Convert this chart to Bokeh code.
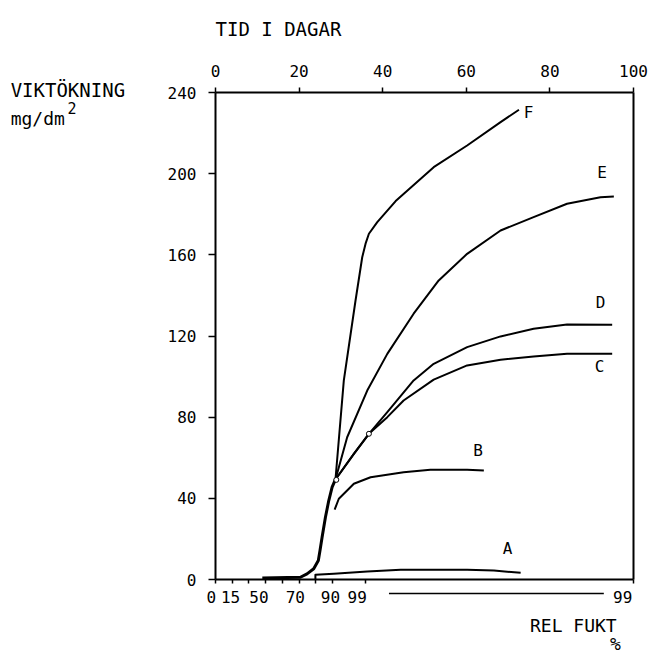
from bokeh.plotting import figure
from bokeh.models import Range1d, LinearAxis, FixedTicker, ColumnDataSource
from bokeh.core.properties import value
from bokeh.embed import file_html
from bokeh.resources import INLINE

# ---------------- data ----------------
stem_day = [11.2, 20.3, 21.9, 23.5, 24.6, 25.0, 25.5, 26.3, 27.1, 27.9, 28.7]
stem_val = [0.8, 1.1, 2.8, 5.3, 9.4, 14.3, 20.8, 30.7, 38.9, 45.5, 49.3]

F_day = [28.7, 30.7, 33.5, 35.1, 35.9, 36.7, 38.7, 43.1, 52.2, 60.2, 68.2, 72.6]
F_val = [49.3, 98.1, 137.5, 158.8, 165.5, 170.4, 176.1, 186.5, 203.2, 213.9, 225.4, 231.5]

E_day = [28.7, 31.5, 36.3, 41.1, 47.4, 53.4, 60.2, 68.2, 76.1, 84.1, 92.1, 95.3]
E_val = [49.3, 70.1, 93.1, 111.2, 131.0, 147.4, 160.5, 172.0, 178.6, 185.2, 188.4, 188.8]

D_day = [28.7, 33.1, 36.7, 41.1, 47.4, 52.2, 60.2, 68.2, 76.1, 84.1, 94.9]
D_val = [49.3, 61.9, 71.8, 82.5, 98.1, 106.3, 114.5, 119.8, 123.6, 125.7, 125.5]

C_day = [28.7, 33.1, 36.7, 41.1, 45.0, 52.2, 60.2, 68.2, 76.1, 84.1, 94.9]
C_val = [49.3, 61.9, 71.8, 80.0, 88.2, 98.5, 105.5, 108.3, 109.9, 111.2, 111.2]

B_day = [28.5, 29.5, 33.1, 37.1, 45.0, 51.4, 60.2, 64.2]
B_val = [34.4, 39.8, 47.2, 50.4, 52.9, 54.1, 54.1, 53.7]

A_day = [23.9, 23.9, 28.3, 36.3, 44.3, 52.2, 60.2, 66.6, 73.0]
A_val = [0.3, 2.3, 2.8, 3.9, 4.8, 4.8, 4.8, 4.4, 3.3]

mark_day = [28.9, 36.7]
mark_val = [49.1, 71.8]

curve_names = ["A", "B", "C", "D", "E", "F"]
curve_label_day = [69.9, 62.8, 91.9, 92.1, 92.5, 74.9]
curve_label_val = [15.1, 63.6, 105.0, 136.7, 200.7, 230.1]

top_ticks = [0, 20, 40, 60, 80, 100]
left_ticks = [0, 40, 80, 120, 160, 200, 240]
bottom_ticks = [0, 4, 8, 12, 16, 20, 24, 28, 36, 100]

rh_labels = ["0", "15", "50", "70", "90", "99", "99"]
rh_day = [-1.0, 3.6, 10.4, 19.1, 27.5, 33.9, 97.4]
rh_line_day = [41.5, 92.9]

FONT = "DejaVu Sans Mono"

x_min, x_max = top_ticks[0], top_ticks[-1]
y_min, y_max = left_ticks[0], left_ticks[-1]

# ---------------- figure ----------------
# the frame fills the whole canvas; the axes sit at fixed data locations
p = figure(width=651, height=655, output_backend="svg", toolbar_location=None,
           x_range=Range1d(-51.435, 104.306), y_range=Range1d(-37.45, 285.34),
           x_axis_location=None, y_axis_location=None,
           min_border=0)
p.outline_line_color = None
p.background_fill_color = "white"
p.border_fill_color = "white"
p.grid.visible = False

def style_axis(ax, tick_out):
    ax.axis_line_color = "black"
    ax.axis_line_width = 2
    ax.major_tick_line_color = "black"
    ax.major_tick_line_width = 1.5
    ax.major_tick_in = 0
    ax.major_tick_out = tick_out
    ax.minor_tick_line_color = None
    ax.major_label_text_font = FONT
    ax.major_label_text_font_size = "16px"
    ax.major_label_text_color = "black"

top = LinearAxis(ticker=FixedTicker(ticks=top_ticks), fixed_location=y_max,
                 bounds=(x_min, x_max))
style_axis(top, 5)
top.major_label_standoff = 11
p.add_layout(top, "above")

left = LinearAxis(ticker=FixedTicker(ticks=left_ticks), fixed_location=x_min,
                  bounds=(y_min, y_max))
style_axis(left, 7)
left.major_label_standoff = 12
p.add_layout(left, "left")

bottom = LinearAxis(ticker=FixedTicker(ticks=bottom_ticks), fixed_location=y_min,
                    bounds=(x_min, x_max))
style_axis(bottom, 4)
bottom.major_label_text_color = None
p.add_layout(bottom, "below")

# right edge of the box
p.line([x_max, x_max], [y_min, y_max], line_color="black", line_width=2)

# ---------------- curves ----------------
p.line(stem_day, stem_val, line_color="black", line_width=3, line_join="round")
for xs, ys in [(F_day, F_val), (E_day, E_val), (D_day, D_val),
               (C_day, C_val), (B_day, B_val), (A_day, A_val)]:
    p.line(xs, ys, line_color="black", line_width=2, line_join="round")

p.scatter(mark_day, mark_val, size=5, fill_color="white",
          line_color="black", line_width=1)

src = ColumnDataSource(dict(x=curve_label_day, y=curve_label_val, t=curve_names))
p.text(x="x", y="y", text="t", source=src, text_font=value(FONT),
       text_font_size="16px", text_align="center", text_baseline="middle",
       text_color="black")

# ---------------- texts around the box ----------------
def lab(x, y, t, size="18px", align="left", base="alphabetic"):
    p.text(x=[x], y=[y], text=[t], text_font=value(FONT), text_font_size=size,
           text_align=align, text_baseline=base, text_color="black")

lab(0, 271.5, "TID I DAGAR", size="19px")
lab(-49.0, 241.0, "VIKTÖKNING", size="19px")
lab(-49.0, 227.2, "mg/dm")
lab(-35.4, 232.5, "2", size="15px")
lab(85.6, -22.7, "REL FUKT", align="center", base="middle")
lab(95.7, -31.3, "%", size="18px", align="center", base="middle")

rh_src = ColumnDataSource(dict(x=rh_day, y=[-8.4] * len(rh_day), t=rh_labels))
p.text(x="x", y="y", text="t", source=rh_src, text_font=value(FONT),
       text_font_size="16px", text_align="center", text_baseline="middle",
       text_color="black")

p.line(rh_line_day, [-6.9, -6.9], line_color="black", line_width=1.5)

open("out.html", "w").write(file_html(p, INLINE))
